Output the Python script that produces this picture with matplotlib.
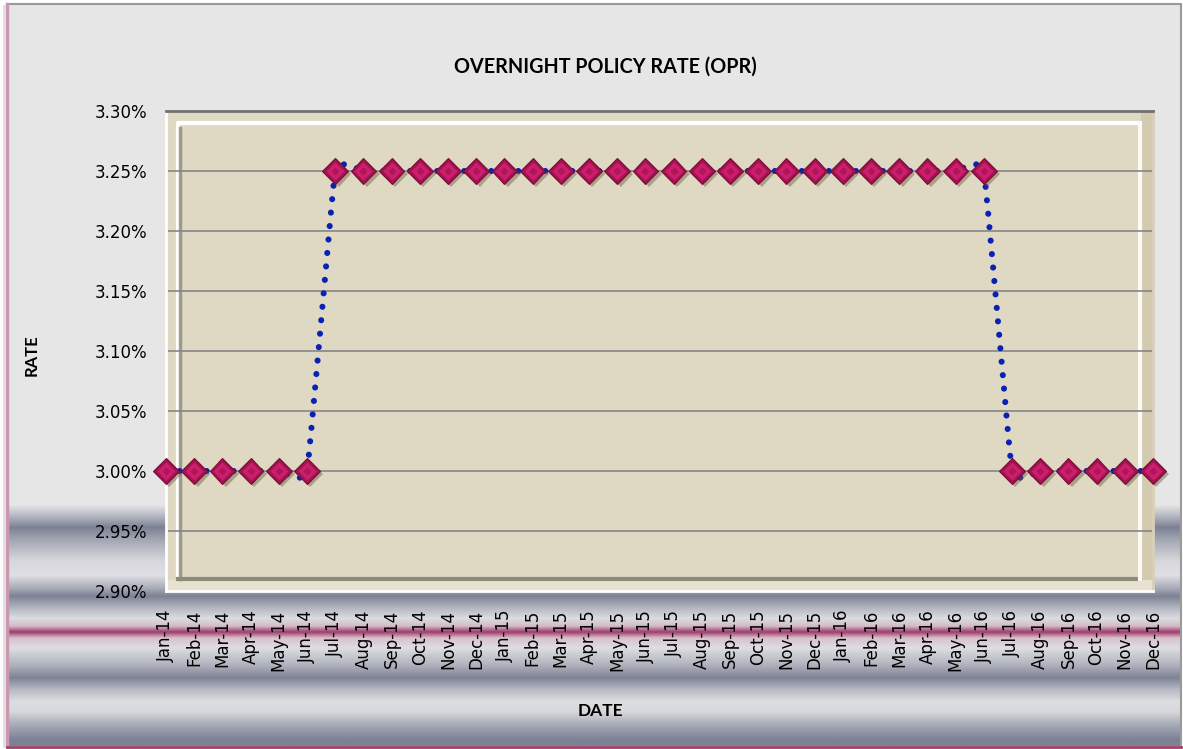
import numpy as np
import matplotlib
matplotlib.use("Agg")
import matplotlib.pyplot as plt
import matplotlib.patheffects as pe
from matplotlib.colors import to_rgb
from matplotlib.patches import Rectangle

# ---------------- data ----------------
months = ["Jan-14", "Feb-14", "Mar-14", "Apr-14", "May-14", "Jun-14",
          "Jul-14", "Aug-14", "Sep-14", "Oct-14", "Nov-14", "Dec-14",
          "Jan-15", "Feb-15", "Mar-15", "Apr-15", "May-15", "Jun-15",
          "Jul-15", "Aug-15", "Sep-15", "Oct-15", "Nov-15", "Dec-15",
          "Jan-16", "Feb-16", "Mar-16", "Apr-16", "May-16", "Jun-16",
          "Jul-16", "Aug-16", "Sep-16", "Oct-16", "Nov-16", "Dec-16"]
opr = [3.00, 3.00, 3.00, 3.00, 3.00, 3.00,
       3.25, 3.25, 3.25, 3.25, 3.25, 3.25,
       3.25, 3.25, 3.25, 3.25, 3.25, 3.25,
       3.25, 3.25, 3.25, 3.25, 3.25, 3.25,
       3.25, 3.25, 3.25, 3.25, 3.25, 3.25,
       3.00, 3.00, 3.00, 3.00, 3.00, 3.00]
yticks = [2.90, 2.95, 3.00, 3.05, 3.10, 3.15, 3.20, 3.25, 3.30]

W, H = 1183, 749
fig = plt.figure(figsize=(W / 100, H / 100), dpi=100)
fig.patch.set_facecolor("white")

# ---------------- background ----------------
bg = fig.add_axes([0, 0, 1, 1], zorder=-10)
bg.set_xlim(0, W)
bg.set_ylim(H, 0)
bg.axis("off")
bg.add_patch(Rectangle((7, 4), 1174, 742, facecolor="#e6e6e6", edgecolor="none"))

stops = [(505, "#e4e4e6"), (515, "#b8bac4"), (527, "#7c8294"), (540, "#a4a8b4"),
         (560, "#d6d7dc"), (575, "#e0e0e4"), (588, "#a8abb8"), (596, "#7c8294"),
         (607, "#b0b3be"), (618, "#dcdce0"), (626, "#d4bcc8"), (632, "#a03c6c"),
         (638, "#d8c0cc"), (648, "#dedee2"), (665, "#b0b3be"), (678, "#7e8396"),
         (690, "#b8bac4"), (702, "#dedee2"), (712, "#d8d8dc"), (725, "#a8abb8"),
         (740, "#7c8294"), (746, "#7c8294")]
ys = np.arange(505, 747)
sy = [s[0] for s in stops]
cols = np.array([to_rgb(s[1]) for s in stops])
grad = np.stack([np.interp(ys, sy, cols[:, k]) for k in range(3)], axis=1)
bg.imshow(grad[:, None, :], extent=(7, 1181, 746, 505), aspect="auto",
          interpolation="bilinear", zorder=1)
# border
bg.plot([7, 1181, 1181], [4, 4, 746], color="#9a9a9a", lw=1.5, zorder=3)
bg.plot([7, 7], [4, 746], color="#c89ab2", lw=2.5, zorder=3)
bg.plot([4.5, 4.5], [6, 746], color="#ecd8e2", lw=2, zorder=3)
bg.plot([7, 1181], [746.5, 746.5], color="#a0406a", lw=2, zorder=3)

# ---------------- main axes ----------------
ax = fig.add_axes([166 / W, 1 - 591 / H, (1153 - 166) / W, (591 - 111) / H])
ax.set_facecolor("#dfd8c2")
x = np.arange(len(months))
ax.set_xlim(0, len(months) - 1)
ax.set_ylim(2.90, 3.30)

# bevel frame
tr = ax.transAxes
def px2ax(px, py):
    return ((px - 166) / (1153 - 166), (591 - py) / (591 - 111))
x0, y0 = px2ax(178, 579)
x1, y1 = px2ax(1140, 123)
ax.plot([x0, x0, x1], [y0, y1, y1], transform=tr, color="#ffffff", lw=3,
        solid_capstyle="butt", zorder=1)
ax.plot([x0 + 0.002, x0 + 0.002], [y0, y1 - 0.01], transform=tr, color="#8e8a78",
        lw=2.5, alpha=0.8, zorder=1.1)
ax.plot([x0, x1], [y0, y0], transform=tr, color="#8e8a78", lw=3, zorder=1.1)
ax.plot([x1, x1], [y0, y1], transform=tr, color="#fbfaf4", lw=3, zorder=1.1)
ax.add_patch(Rectangle((x1 + 0.001, 0), 1 - x1, 1, transform=tr,
                       facecolor="#d4cab0", edgecolor="none", zorder=0.5))
ax.add_patch(Rectangle((0, 0), 1, y0 - 0.003, transform=tr,
                       facecolor="#e8e2d0", edgecolor="none", zorder=0.5))

for yv in yticks[1:-1]:
    ax.axhline(yv, color="#868686", lw=1.2, zorder=2)

for s in ["left", "bottom"]:
    ax.spines[s].set_color("white")
    ax.spines[s].set_linewidth(2)
ax.spines["top"].set_color("#707070")
ax.spines["top"].set_linewidth(2)
ax.spines["right"].set_color("#d8d0b8")
ax.spines["right"].set_linewidth(2)

# smoothed line (Bezier through the points, computed in pixel units)
sx, syc = (1153 - 166) / (len(months) - 1), (591 - 111) / 0.40
P = np.column_stack([x * sx, np.array(opr) * syc])
k = 0.05
curve = []
t = np.linspace(0, 1, 40)[:, None]
n = len(P)
for i in range(n - 1):
    p0 = P[i]
    p3 = P[i + 1]
    pm = P[i - 1] if i > 0 else P[i]
    pp = P[i + 2] if i + 2 < n else P[i + 1]
    c1 = p0 + (p3 - pm) * k
    c2 = p3 - (pp - p0) * k
    seg = ((1 - t) ** 3) * p0 + 3 * ((1 - t) ** 2) * t * c1 + 3 * (1 - t) * t ** 2 * c2 + t ** 3 * p3
    curve.append(seg if i == 0 else seg[1:])
curve = np.vstack(curve)
ax.plot(curve[:, 0] / sx, curve[:, 1] / syc, color="#0a22b4", lw=4.4,
        linestyle=(0, (0.01, 2.2)), dash_capstyle="round", zorder=3, clip_on=False)

# markers
ax.plot(x, opr, linestyle="none", marker="D", markersize=13,
        markerfacecolor="#a01450", markeredgecolor="#7a0c38", markeredgewidth=0.8,
        zorder=4, clip_on=False,
        path_effects=[pe.SimplePatchShadow(offset=(2.5, -2.5), shadow_rgbFace="#6a5a40",
                                           alpha=0.45), pe.Normal()])
ax.plot(x, opr, linestyle="none", marker="D", markersize=9.5,
        markerfacecolor="#cc1e6c", markeredgecolor="none", zorder=5, clip_on=False)
ax.plot(x, opr, linestyle="none", marker="D", markersize=4,
        markerfacecolor="#b0155a", markeredgecolor="none", zorder=6, clip_on=False)

# ticks
ax.set_xticks(x)
ax.set_xticklabels(months, rotation=90, fontsize=12, family="DejaVu Sans")
ax.set_yticks(yticks)
ax.set_yticklabels([f"{v:.2f}%" for v in yticks], fontsize=12, family="DejaVu Sans")
ax.tick_params(axis="both", length=0, colors="black")
ax.tick_params(axis="x", pad=13.5)
ax.tick_params(axis="y", pad=13.5)

# texts
fig.text(605 / W, 1 - 67 / H, "OVERNIGHT POLICY RATE (OPR)", ha="center", va="center",
         fontsize=14.2, fontweight="bold", family="Lato")
fig.text(32 / W, 1 - 355 / H, "RATE", ha="center", va="center", rotation=90,
         fontsize=12, fontweight="bold", family="Lato")
fig.text(600 / W, 1 - 711 / H, "DATE", ha="center", va="center",
         fontsize=12.5, fontweight="bold", family="Lato")

fig.savefig("out.png", dpi=100)
